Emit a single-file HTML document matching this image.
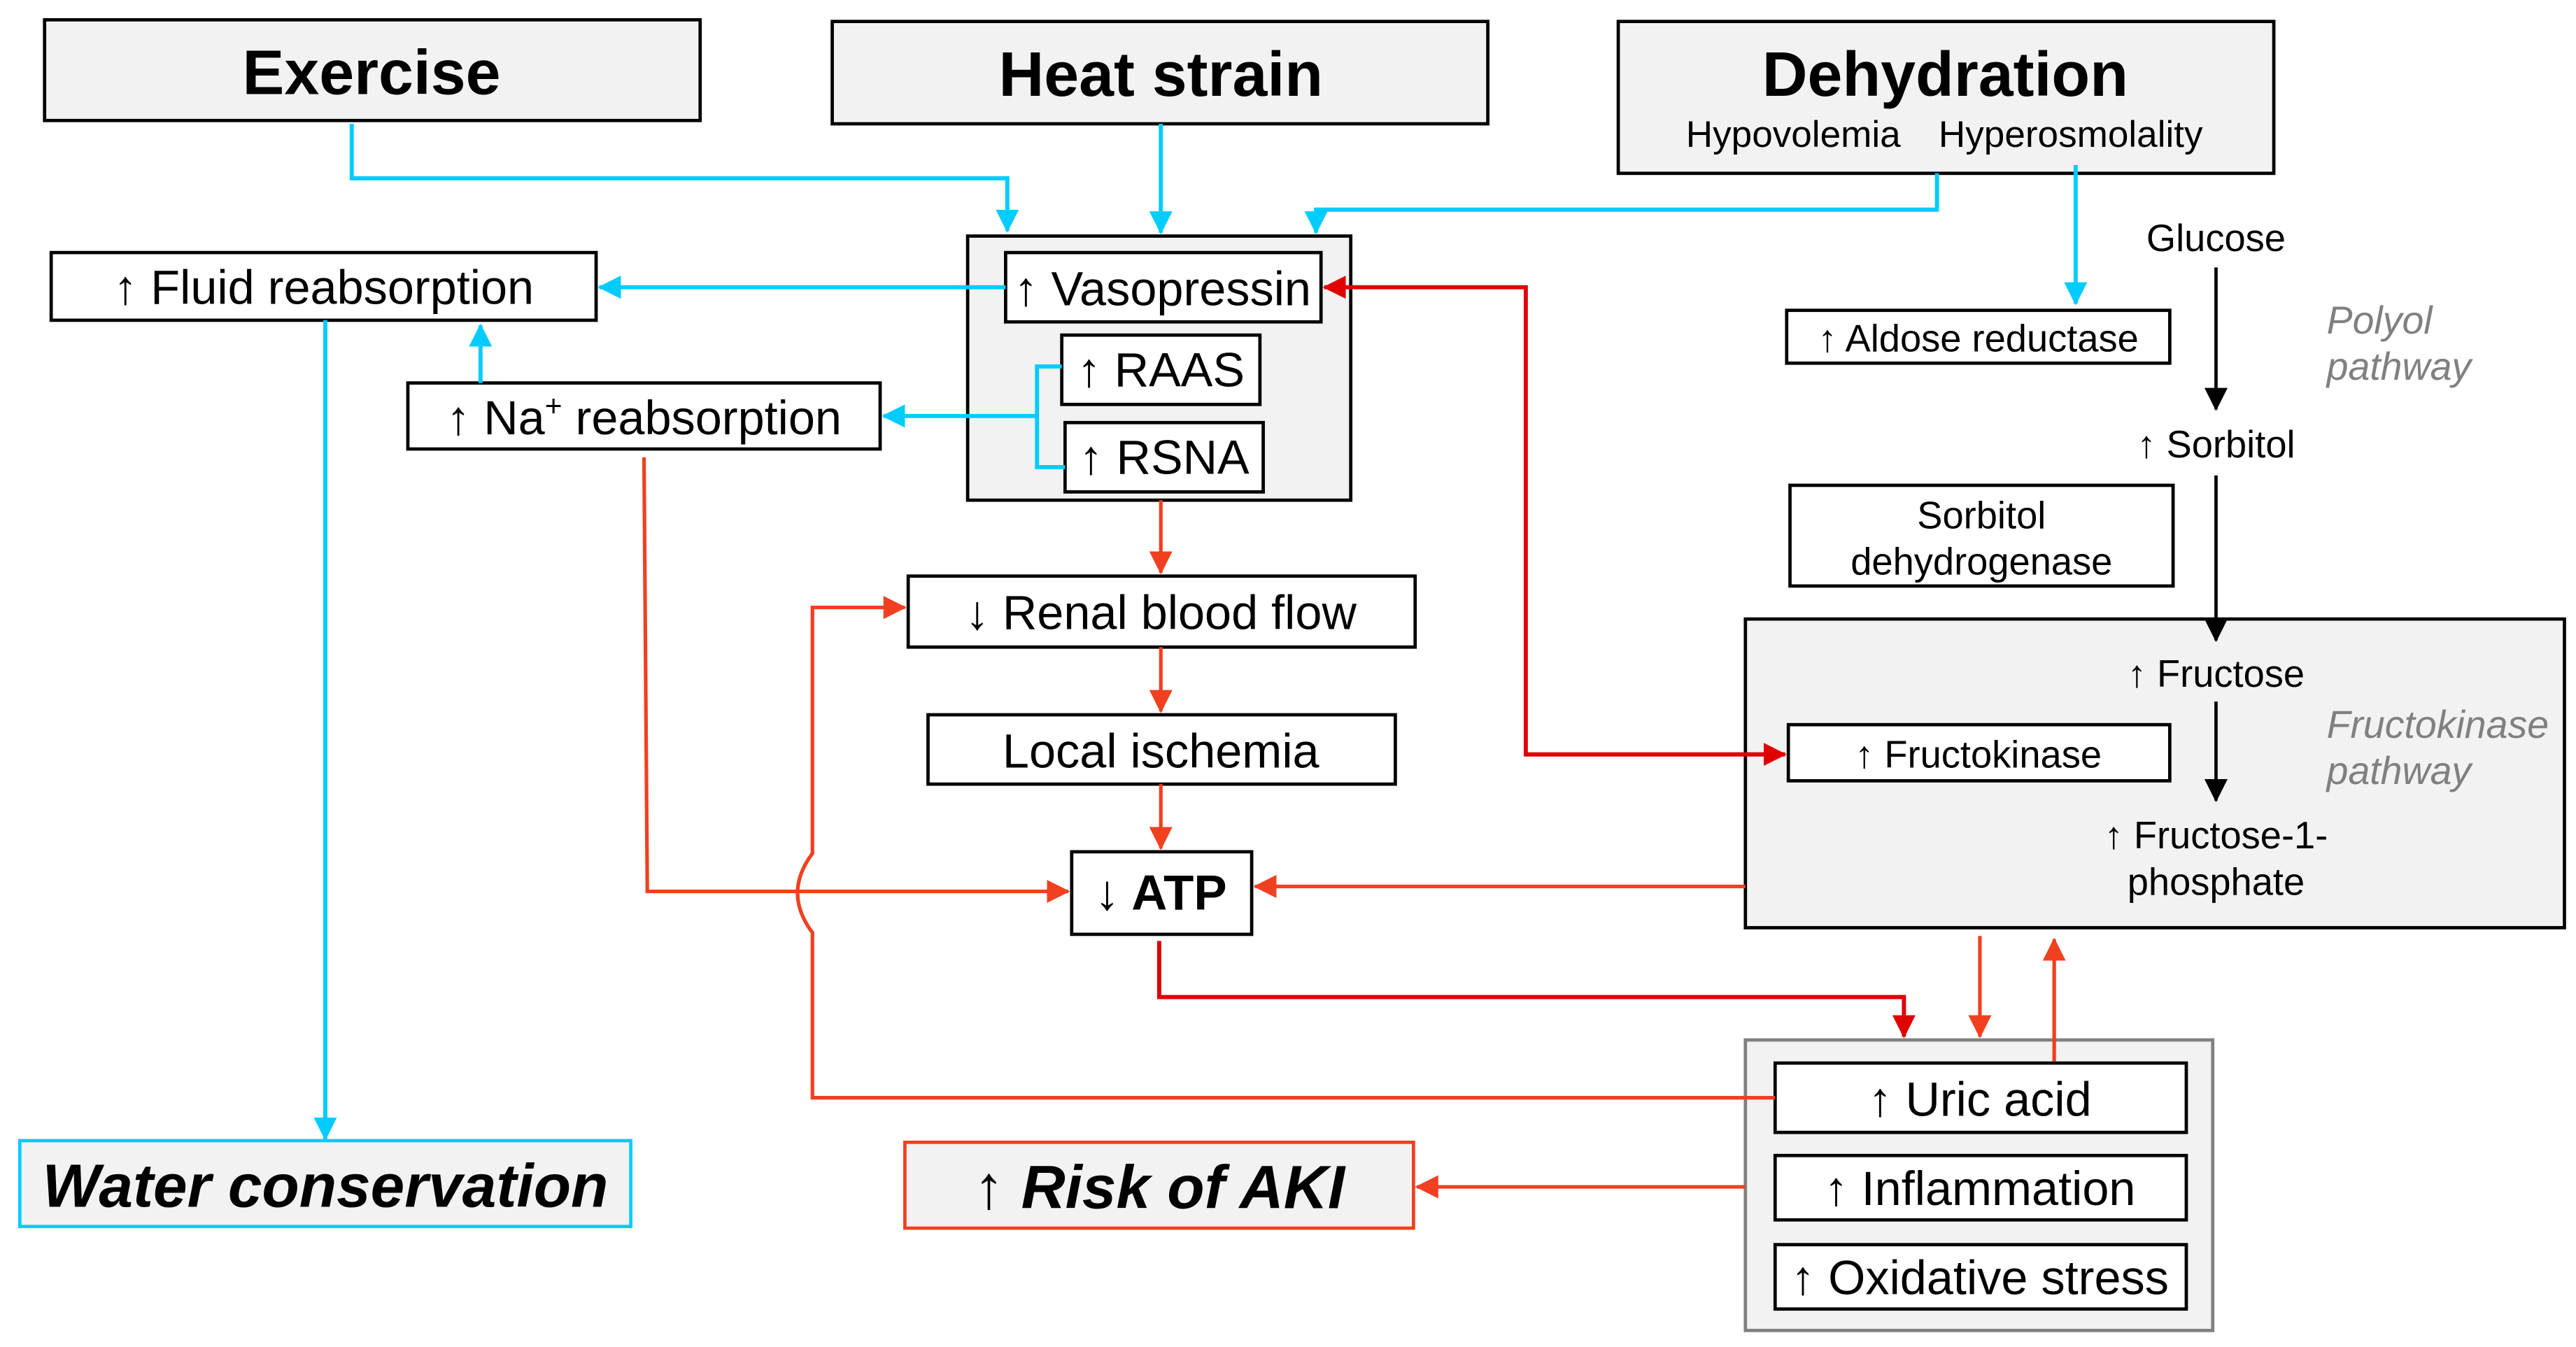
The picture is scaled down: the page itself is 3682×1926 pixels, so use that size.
<!DOCTYPE html>
<html><head><meta charset="utf-8"><style>html,body{margin:0;padding:0;background:#fff}svg{display:block}</style></head>
<body>
<svg width="3682" height="1926" viewBox="0 0 1560 816" preserveAspectRatio="none" xmlns="http://www.w3.org/2000/svg" font-family="Liberation Sans, Arial, sans-serif">
<defs>
<marker id="c" markerUnits="userSpaceOnUse" markerWidth="14" markerHeight="14" refX="13" refY="7" orient="auto"><path d="M0,0 L14,7 L0,14 z" fill="#00ccff"/></marker>
<marker id="o" markerUnits="userSpaceOnUse" markerWidth="14" markerHeight="14" refX="13" refY="7" orient="auto"><path d="M0,0 L14,7 L0,14 z" fill="#f04020"/></marker>
<marker id="r" markerUnits="userSpaceOnUse" markerWidth="14" markerHeight="14" refX="13" refY="7" orient="auto"><path d="M0,0 L14,7 L0,14 z" fill="#e00000"/></marker>
<marker id="rs" markerUnits="userSpaceOnUse" markerWidth="14" markerHeight="14" refX="1" refY="7" orient="auto"><path d="M14,0 L0,7 L14,14 z" fill="#e00000"/></marker>
<marker id="k" markerUnits="userSpaceOnUse" markerWidth="14" markerHeight="14" refX="13" refY="7" orient="auto"><path d="M0,0 L14,7 L0,14 z" fill="#000"/></marker>
</defs>
<g stroke="#000" stroke-width="2">
<rect x="27" y="12" width="397" height="61" fill="#f2f2f2"/>
<rect x="504" y="13" width="397" height="62" fill="#f2f2f2"/>
<rect x="980" y="13" width="397" height="92" fill="#f2f2f2"/>
<rect x="586" y="143" width="232" height="160" fill="#f2f2f2"/>
<rect x="609" y="153" width="191" height="42" fill="#fff"/>
<rect x="643" y="203" width="120" height="42" fill="#fff"/>
<rect x="645" y="256" width="120" height="42" fill="#fff"/>
<rect x="31" y="153" width="330" height="41" fill="#fff"/>
<rect x="247" y="232" width="286" height="40" fill="#fff"/>
<rect x="550" y="349" width="307" height="43" fill="#fff"/>
<rect x="562" y="433" width="283" height="42" fill="#fff"/>
<rect x="649" y="516" width="109" height="50" fill="#fff"/>
<rect x="1057" y="375" width="496" height="187" fill="#f2f2f2"/>
<rect x="1083" y="439" width="231" height="34" fill="#fff"/>
<rect x="1082" y="188" width="232" height="32" fill="#fff"/>
<rect x="1084" y="294" width="232" height="61" fill="#fff"/>
<rect x="1057" y="630" width="283" height="176" fill="#f2f2f2" stroke="#808080"/>
<rect x="1075" y="644" width="249" height="42" fill="#fff"/>
<rect x="1075" y="700" width="249" height="39" fill="#fff"/>
<rect x="1075" y="754" width="249" height="39" fill="#fff"/>
</g>
<rect x="12" y="691" width="370" height="52" fill="#f2f2f2" stroke="#00ccff" stroke-width="2"/>
<rect x="548" y="692" width="308" height="52" fill="#f2f2f2" stroke="#f04020" stroke-width="2"/>
<g fill="none" stroke="#00ccff" stroke-width="2.5">
<path d="M213,75 V108 H610 V140" marker-end="url(#c)"/>
<path d="M703,75 V141" marker-end="url(#c)"/>
<path d="M1173,105 V127 H797 V141" marker-end="url(#c)"/>
<path d="M1257,100 V184" marker-end="url(#c)"/>
<path d="M609,174 H363" marker-end="url(#c)"/>
<path d="M643,222 H628 V283 H645"/>
<path d="M628,252 H535" marker-end="url(#c)"/>
<path d="M291,232 V197" marker-end="url(#c)"/>
<path d="M197,194 V690" marker-end="url(#c)"/>
</g>
<g fill="none" stroke="#f04020" stroke-width="2.2">
<path d="M703,303 V347" marker-end="url(#o)"/>
<path d="M703,392 V431" marker-end="url(#o)"/>
<path d="M703,475 V514" marker-end="url(#o)"/>
<path d="M390,277 L392,540 H647" marker-end="url(#o)"/>
<path d="M1075,665 H492 V565 Q474,541 492,517 V368 H548" marker-end="url(#o)"/>
<path d="M1057,537 H760" marker-end="url(#o)"/>
<path d="M1199,567 V628" marker-end="url(#o)"/>
<path d="M1244,643 V569" marker-end="url(#o)"/>
<path d="M1057,719 H858" marker-end="url(#o)"/>
</g>
<g fill="none" stroke="#e00000" stroke-width="2.5">
<path d="M1081,457 H924 V174 H802" marker-end="url(#r)"/>
<path d="M924,457 H1081" marker-end="url(#r)"/>
<path d="M702,570 V604 H1153 V628" marker-end="url(#r)"/>
</g>
<g fill="none" stroke="#000" stroke-width="2">
<path d="M1342,162 V248" marker-end="url(#k)"/>
<path d="M1342,288 V388" marker-end="url(#k)"/>
<path d="M1342,425 V485" marker-end="url(#k)"/>
</g>
<g text-anchor="middle" fill="#000">
<text x="225" y="57" font-size="38" font-weight="bold">Exercise</text>
<text x="703" y="58" font-size="38" font-weight="bold">Heat strain</text>
<text x="1178" y="58" font-size="38" font-weight="bold">Dehydration</text>
<text x="1086" y="89" font-size="22.5">Hypovolemia</text>
<text x="1254" y="89" font-size="22.5">Hyperosmolality</text>
<text x="196" y="184" font-size="29">↑ Fluid reabsorption</text>
<text x="704" y="185" font-size="29">↑ Vasopressin</text>
<text x="703" y="234" font-size="29">↑ RAAS</text>
<text x="705" y="287" font-size="29">↑ RSNA</text>
<text x="390" y="263" font-size="29">↑ Na<tspan font-size="18" dy="-11">+</tspan><tspan dy="11"> reabsorption</tspan></text>
<text x="703" y="381" font-size="29">↓ Renal blood flow</text>
<text x="703" y="465" font-size="29">Local ischemia</text>
<text x="703" y="551" font-size="30" font-weight="bold">↓ ATP</text>
<text x="1342" y="152" font-size="23">Glucose</text>
<text x="1198" y="213" font-size="23">↑ Aldose reductase</text>
<text x="1342" y="277" font-size="23">↑ Sorbitol</text>
<text x="1200" y="320" font-size="23">Sorbitol</text>
<text x="1200" y="348" font-size="23">dehydrogenase</text>
<text x="1342" y="416" font-size="23">↑ Fructose</text>
<text x="1198" y="465" font-size="23">↑ Fructokinase</text>
<text x="1342" y="514" font-size="23">↑ Fructose-1-</text>
<text x="1342" y="542" font-size="23">phosphate</text>
<text x="1199" y="676" font-size="29">↑ Uric acid</text>
<text x="1199" y="730" font-size="29">↑ Inflammation</text>
<text x="1199" y="784" font-size="29">↑ Oxidative stress</text>
<text x="197" y="731" font-size="37" font-weight="bold" font-style="italic">Water conservation</text>
<text x="702" y="732" font-size="37" font-weight="bold"><tspan font-weight="normal">↑</tspan><tspan font-style="italic"> Risk of AKI</tspan></text>
</g>
<g fill="#808080" font-size="23.5" font-style="italic">
<text x="1409" y="202">Polyol</text>
<text x="1409" y="230">pathway</text>
<text x="1409" y="447">Fructokinase</text>
<text x="1409" y="475">pathway</text>
</g>
</svg>
</body></html>
